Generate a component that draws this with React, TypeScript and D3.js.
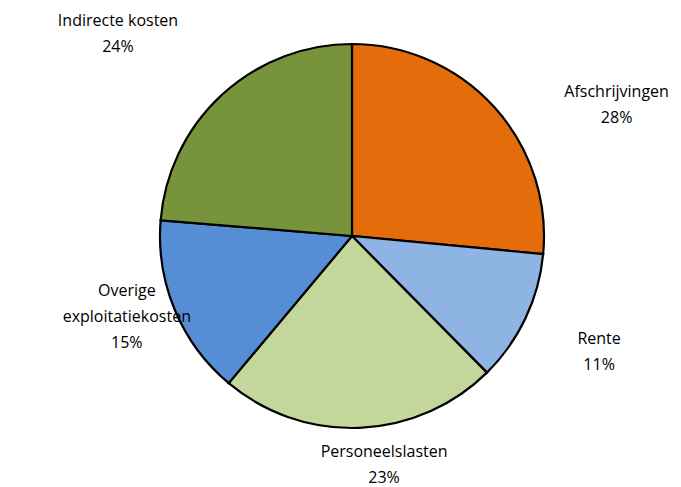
import React from "react";
import * as d3 from "d3";

const categories = ["Afschrijvingen", "Rente", "Personeelslasten", "Overige exploitatiekosten", "Indirecte kosten"];
const values = [26.5, 11.1, 23.5, 15.2, 23.7];
const percentLabels = ["28%", "11%", "23%", "15%", "24%"];
const labelLines = [["Afschrijvingen"], ["Rente"], ["Personeelslasten"], ["Overige", "exploitatiekosten"], ["Indirecte kosten"]];
const colors = ["#E46C0A", "#8EB4E3", "#C3D69B", "#558ED5", "#77933C"];

// label layout: radius factor and angle (deg) relative to pie center
const labelLayout = [
  { r: 1.54, a: 63.5 },
  { r: 1.42, a: 115 },
  { r: 1.2, a: 172 },
  { r: 1.245, a: 250.4 },
  { r: 1.615, a: 311 },
];

const W = 681;
const H = 487;
const cx = 352;
const cy = 236;
const R = 192;

export default function App() {
  const pie = d3.pie<number>().sort(null).value((d) => d);
  const arcs = pie(values);
  const arc = d3.arc<d3.PieArcDatum<number>>().innerRadius(0).outerRadius(R);
  const fontSize = 16;
  const lineH = 26;
  return (
    <div style={{ position: "absolute", left: 0, top: 0 }}>
      <svg width={W} height={H} style={{ display: "block", background: "#fff" }}>
        <g transform={`translate(${cx},${cy})`}>
          {arcs.map((a, i) => (
            <path key={categories[i]} d={arc(a) || ""} fill={colors[i]} stroke="#000" strokeWidth={2.2} strokeLinejoin="miter" />
          ))}
          {arcs.map((a, i) => {
            const L = labelLayout[i];
            const rad = (L.a * Math.PI) / 180;
            const x = Math.sin(rad) * R * L.r;
            const y = -Math.cos(rad) * R * L.r;
            const lines = [...labelLines[i], percentLabels[i]];
            const y0 = y - ((lines.length - 1) * lineH) / 2;
            return (
              <text
                key={"l" + i}
                x={x}
                textAnchor="middle"
                fontFamily="Open Sans, Liberation Sans, sans-serif"
                fontSize={fontSize}
                fill="#000"
              >
                {lines.map((t, j) => (
                  <tspan key={j} x={x} y={y0 + j * lineH} dominantBaseline="central">
                    {t}
                  </tspan>
                ))}
              </text>
            );
          })}
        </g>
      </svg>
    </div>
  );
}
